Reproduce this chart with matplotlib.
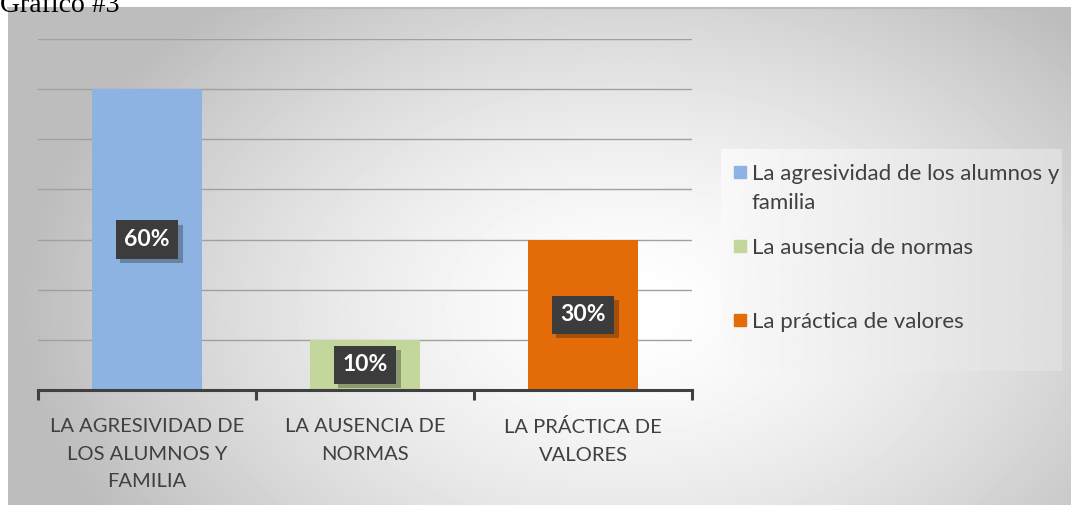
import numpy as np
import matplotlib.pyplot as plt
from matplotlib import patheffects

# Data
categories = ["LA AGRESIVIDAD DE\nLOS ALUMNOS Y\nFAMILIA", "LA AUSENCIA DE\nNORMAS", "LA PRÁCTICA DE\nVALORES"]
legend_labels = ["La agresividad de los alumnos y\nfamilia", "La ausencia de normas", "La práctica de valores"]
values = [0.60, 0.10, 0.30]
value_labels = ["60%", "10%", "30%"]
colors = ["#8db3e2", "#c3d69b", "#e36c09"]

W, H = 1071, 505
fig = plt.figure(figsize=(W / 100, H / 100), dpi=100)
fig.patch.set_facecolor("white")

# chart background with radial gradient
bg = fig.add_axes([8 / W, 0, 1 - 8 / W, 1 - 8 / H])
yy, xx = np.mgrid[0:497, 0:1063]
r = np.sqrt(((xx - 620) / 620) ** 2 + ((yy - 300) / 420) ** 2)
shade = np.clip(1.0 - 0.27 * r ** 1.5, 0.74, 1.0)
bg.imshow(shade, cmap="gray", vmin=0, vmax=1, aspect="auto", extent=[0, 1, 0, 1], origin="upper")
bg.set_axis_off()
fig.add_artist(plt.Line2D([8 / W, 1], [1 - 8 / H, 1 - 8 / H], color="#bdbdbd", lw=1.5))

# top caption, partially cut like in the source
fig.text(0, 1 + 7 / H, "Gráfico #3", fontsize=20, family="Liberation Serif",
         ha="left", va="top", color="black")

ax = fig.add_axes([38 / W, (H - 390) / H, 654 / W, 351 / H])
ax.patch.set_alpha(0)
x = np.arange(len(values))
ax.bar(x, values, width=0.505, color=colors, zorder=2)
ax.set_xlim(-0.5, 2.5)
ax.set_ylim(0, 0.7)
ax.set_yticks(np.arange(0.1, 0.71, 0.1))
ax.yaxis.grid(True, color="#a0a0a0", linewidth=1.0, zorder=0)
ax.tick_params(axis="y", length=0, labelleft=False)
for s in ["top", "right", "left"]:
    ax.spines[s].set_visible(False)
ax.spines["bottom"].set_color("#404040")
ax.spines["bottom"].set_linewidth(2.2)
ax.set_xticks([-0.5, 0.5, 1.5, 2.5])
ax.set_xticklabels([])
ax.tick_params(axis="x", length=7, width=2.2, color="#404040", direction="out")
for i, c in enumerate(categories):
    ax.text(i, -0.056, c, ha="center", va="top", fontsize=14.5, family="Lato",
            color="#404040", linespacing=1.75)

for i, (v, lbl) in enumerate(zip(values, value_labels)):
    ax.text(i, v / 2, lbl, ha="center", va="center", fontsize=16.5, fontweight="bold",
            family="Lato", color="white", zorder=4,
            bbox=dict(boxstyle="square,pad=0.38", facecolor="#3c3c3c", edgecolor="none",
                      path_effects=[patheffects.withSimplePatchShadow(offset=(3, -3), alpha=0.3)]))

# legend box, drawn by hand to follow the source spacing
lg = fig.add_axes([721 / W, (H - 371) / H, 341 / W, 222 / H])
grad = np.linspace(0.975, 0.87, 200)[None, :]
lg.imshow(grad, cmap="gray", vmin=0, vmax=1, aspect="auto", extent=[0, 341, 222, 0])
lg.set_xlim(0, 341)
lg.set_ylim(222, 0)
lg.set_axis_off()
legend_y = [23, 97, 171]
for c, lbl, ly in zip(colors, legend_labels, legend_y):
    lg.add_patch(plt.Rectangle((13, ly - 6), 12, 12, color=c))
    lg.text(31, ly - 8, lbl, ha="left", va="top", fontsize=16, family="Lato",
            color="#404040", linespacing=1.55)

fig.savefig("out.png", dpi=100)
